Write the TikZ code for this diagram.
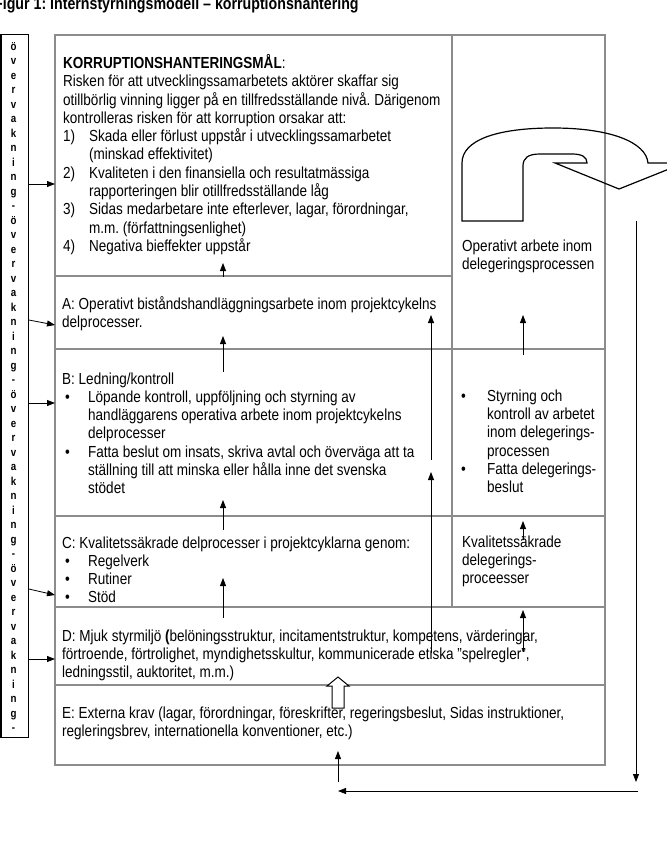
\documentclass[tikz,border=0pt]{standalone}
\usepackage{fontspec}
\setmainfont{Liberation Sans}[FakeStretch=0.845]
\usetikzlibrary{arrows.meta}
\usepackage{xcolor}
\definecolor{gridgray}{HTML}{8C8C8C}
\frenchspacing
\newcommand\cellfont{\fontsize{16}{18.3}\selectfont}
\newcommand\titlefont{\fontsize{16.8}{20}\selectfont\bfseries}
\newcommand\numitem[2]{\par\hangindent=26pt\hangafter=1\noindent\makebox[26pt][l]{#1}#2\par}
\newcommand\bulitem[2][3pt]{\numitem{\hspace{#1}\textbullet}{#2}}

\begin{document}
\begin{tikzpicture}[x=1pt, y=-1pt,
    cell/.style={draw=gridgray, line width=1.1pt, anchor=north west, inner sep=0pt, outer sep=0pt},
    txt/.style={anchor=base west, inner sep=0pt, font=\cellfont\frenchspacing, align=flush left, text width=#1},
    arr/.style={-{Triangle[length=8pt,width=6pt]}, line width=0.8pt},
    letter/.style={font=\fontsize{11.5}{11.5}\selectfont\bfseries, inner sep=0pt, anchor=base}]
    \useasboundingbox (0,0) rectangle (666,861);
    % Titel (avskuren upptill)
    \node[font=\titlefont, anchor=base west, inner sep=0pt] (title) at (-6,10)
        {Figur 1: Internstyrningsmodell – korruptionshantering};
    % Rutnätet
    \node[cell, minimum width=397, minimum height=241] (goal) at (55,35) {};
    \node[cell, minimum width=153, minimum height=314] (opr) at (452,35) {};
    \node[cell, minimum width=397, minimum height=73] (rowA) at (55,276) {};
    \node[cell, minimum width=397, minimum height=167] (rowB) at (55,349) {};
    \node[cell, minimum width=153, minimum height=167] (ctlB) at (452,349) {};
    \node[cell, minimum width=397, minimum height=91] (rowC) at (55,516) {};
    \node[cell, minimum width=153, minimum height=91] (qualC) at (452,516) {};
    \node[cell, minimum width=550, minimum height=78] (rowD) at (55,607) {};
    \node[cell, minimum width=550, minimum height=80] (rowE) at (55,685) {};
    % Övervakning (lodrät text)
    \node[draw, line width=1.3pt, anchor=north west, inner sep=0pt,
          minimum width=27, minimum height=703] (obs) at (0.5,34) {};
    \foreach \r in {0,...,3}
      \foreach \ch [count=\k from 0] in {ö,v,e,r,v,a,k,n,i,n,g,-}
        \node[letter] (ov\r-\k) at (13.5,{50.5+14.49*(12*\r+\k)}) {\ch};
    % Pilar från övervakningen
    \draw[arr] (obs.east |- 0,184) -- (goal.west |- 0,184);
    \draw[arr] (obs.east |- 0,320) -- (rowA.west |- 0,325);
    \draw[arr] (obs.east |- 0,403) -- (rowB.west |- 0,403);
    \draw[arr] (obs.east |- 0,589) -- (rowC.west |- 0,595);
    \draw[arr] (obs.east |- 0,659) -- (rowD.west |- 0,659);
    % Pilar uppåt
    \draw[arr] (223,277) -- (223,263);
    \draw[arr] (223,372) -- (223,336);
    \draw[arr] (223,530) -- (223,500);
    \draw[arr] (223,618) -- (223,578);
    \draw[arr] (431,460) -- (431,315);
    \draw[arr] (431,653) -- (431,472);
    \draw[arr] (523,355) -- (523,315);
    \draw[arr] (523,540) -- (523,521);
    \draw[arr] (523,652) -- (523,610);
    % Ihålig pil E -> D
    \draw[line width=1pt, fill=white] (332,708) -- (332,686) -- (327,686) -- (338,677)
        -- (349,686) -- (344,686) -- (344,708) -- cycle;
    % U-svängen
    \draw[line width=1.2pt] (462,221) -- (462,163)
        .. controls (462,140) and (497,128) .. (553,128)
        .. controls (610,128) and (646,142) .. (648,163)
        -- (684,163) -- (619,189) -- (555,163) -- (587,163)
        .. controls (587,157) and (582,154) .. (572,154)
        -- (540,154) .. controls (528,154) and (523,158) .. (523,166)
        -- (523,221) -- cycle;
    % Återkopplingen
    \draw[arr] (636,221) -- (636,782);
    \draw[arr] (638,791) -- (338,791);
    \draw[arr] (338,782) -- (338,751);
    % Texter
    \node[txt=400] (goaltxt) at (63,68.5) {\textbf{KORRUPTIONSHANTERINGSMÅL}:\newline
        Risken för att utvecklingssamarbetets aktörer skaffar sig\newline
        otillbörlig vinning ligger på en tillfredsställande nivå. Därigenom\newline
        kontrolleras risken för att korruption orsakar att:\par
        \numitem{1)}{Skada eller förlust uppstår i utvecklingssamarbetet\newline (minskad effektivitet)}
        \numitem{2)}{Kvaliteten i den finansiella och resultatmässiga\newline rapporteringen blir otillfredsställande låg}
        \numitem{3)}{Sidas medarbetare inte efterlever, lagar, förordningar,\newline m.m. (författningsenlighet)}
        \numitem{4)}{Negativa bieffekter uppstår}};
    \node[txt=400] (atxt) at (62,309) {A: Operativt biståndshandläggningsarbete inom projektcykelns\newline delprocesser.};
    \node[txt=385] (btxt) at (62,384) {B: Ledning/kontroll\par
        \bulitem{Löpande kontroll, uppföljning och styrning av\newline handläggarens operativa arbete inom projektcykelns\newline delprocesser}
        \bulitem{Fatta beslut om insats, skriva avtal och överväga att ta\newline ställning till att minska eller hålla inne det svenska\newline stödet}};
    \node[txt=385] (ctxt) at (62,548) {C: Kvalitetssäkrade delprocesser i projektcyklarna genom:\par
        \bulitem{Regelverk}
        \bulitem{Rutiner}
        \bulitem{Stöd}};
    \node[txt=540] (dtxt) at (62,641) {D: Mjuk styrmiljö \textbf{(}belöningsstruktur, incitamentstruktur, kompetens, värderingar,\newline
        förtroende, förtrolighet, myndighetsskultur, kommunicerade etiska "spelregler",\newline
        ledningsstil, auktoritet, m.m.)};
    \node[txt=540] (etxt) at (62,718) {E: Externa krav (lagar, förordningar, föreskrifter, regeringsbeslut, Sidas instruktioner,\newline
        regleringsbrev, internationella konventioner, etc.)};
    \node[txt=140] (oprtxt) at (462,251.5) {Operativt arbete inom\newline delegeringsprocessen};
    \node[txt=140] (ctltxt) at (461,383) {\bulitem[0pt]{Styrning och\newline kontroll av arbetet\newline inom delegerings-\newline processen}
        \bulitem[0pt]{Fatta delegerings-\newline beslut}};
    \node[txt=140] (qualtxt) at (462,547) {Kvalitetssäkrade\newline delegerings-\newline proceesser};
\end{tikzpicture}
\end{document}
